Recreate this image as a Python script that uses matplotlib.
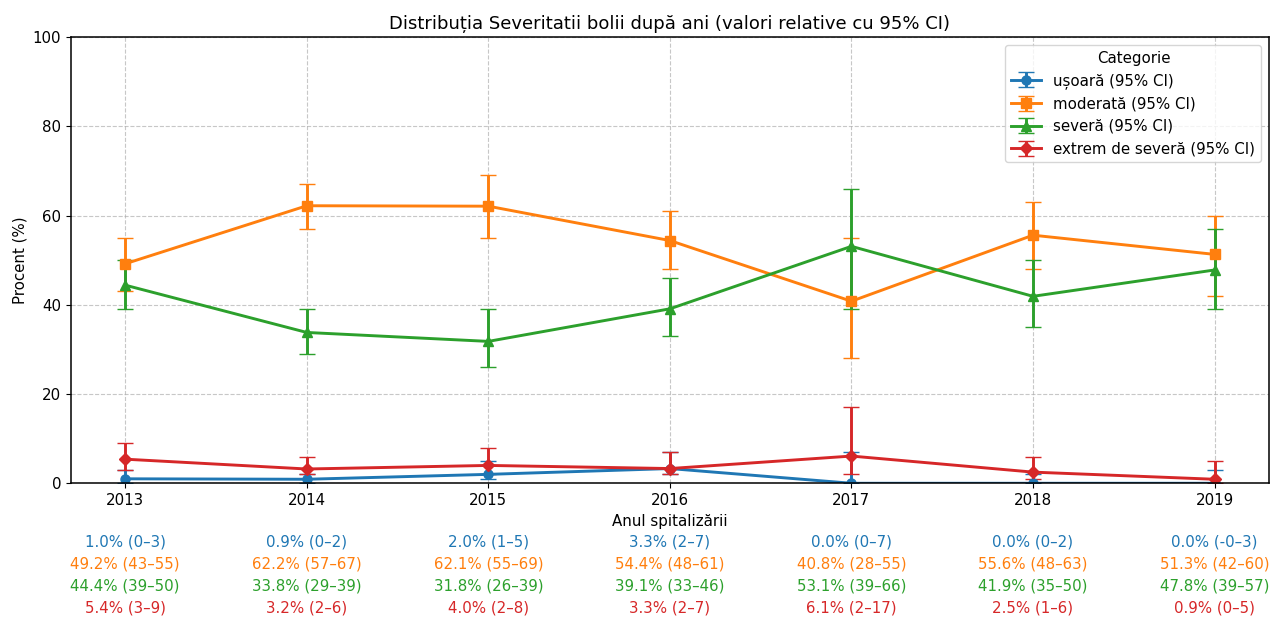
import numpy as np
import matplotlib.pyplot as plt

years = [2013, 2014, 2015, 2016, 2017, 2018, 2019]
categories = ['ușoară', 'moderată', 'severă', 'extrem de severă']

# procente si intervale de incredere 95%
usoara = [1.0, 0.9, 2.0, 3.3, 0.0, 0.0, 0.0]
usoara_lo = [0, 0, 1, 2, 0, 0, -0.3]
usoara_hi = [3, 2, 5, 7, 7, 2, 3]

moderata = [49.2, 62.2, 62.1, 54.4, 40.8, 55.6, 51.3]
moderata_lo = [43, 57, 55, 48, 28, 48, 42]
moderata_hi = [55, 67, 69, 61, 55, 63, 60]

severa = [44.4, 33.8, 31.8, 39.1, 53.1, 41.9, 47.8]
severa_lo = [39, 29, 26, 33, 39, 35, 39]
severa_hi = [50, 39, 39, 46, 66, 50, 57]

extrem = [5.4, 3.2, 4.0, 3.3, 6.1, 2.5, 0.9]
extrem_lo = [3, 2, 2, 2, 2, 1, 0]
extrem_hi = [9, 6, 8, 7, 17, 6, 5]

series = [
    (usoara, usoara_lo, usoara_hi, 'o', 'tab:blue'),
    (moderata, moderata_lo, moderata_hi, 's', 'tab:orange'),
    (severa, severa_lo, severa_hi, '^', 'tab:green'),
    (extrem, extrem_lo, extrem_hi, 'D', 'tab:red'),
]

plt.rcParams['font.size'] = 10.8
plt.rcParams['axes.linewidth'] = 1.1

fig, ax = plt.subplots(figsize=(12.87, 6.18), dpi=100)

x = np.array(years)
for name, (vals, lo, hi, mk, col) in zip(categories, series):
    vals = np.array(vals)
    err = [vals - np.array(lo), np.array(hi) - vals]
    err = np.clip(err, 0, None)
    ax.errorbar(x, vals, yerr=err, marker=mk, color=col, capsize=5.5,
                linewidth=2.1, markersize=6.5, label=f'{name} (95% CI)')

ax.set_ylim(0, 100)
ax.set_xticks(years)
ax.set_title('Distribuția Severitatii bolii după ani (valori relative cu 95% CI)', fontsize=13)
ax.set_xlabel('Anul spitalizării')
ax.set_ylabel('Procent (%)')
ax.grid(True, linestyle='--', alpha=0.7)
ax.legend(title='Categorie', loc='upper right')

# etichete sub axa x
for i, yr in enumerate(years):
    for j, (vals, lo, hi, mk, col) in enumerate(series):
        ax.text(yr, -0.132 - j * 0.0495,
                f'{vals[i]:.1f}% ({lo[i]:.0f}–{hi[i]:.0f})',
                transform=ax.get_xaxis_transform(), ha='center', va='center',
                color=col)

plt.subplots_adjust(left=0.055, right=0.986, top=0.94, bottom=0.218)
plt.savefig('out.png')
